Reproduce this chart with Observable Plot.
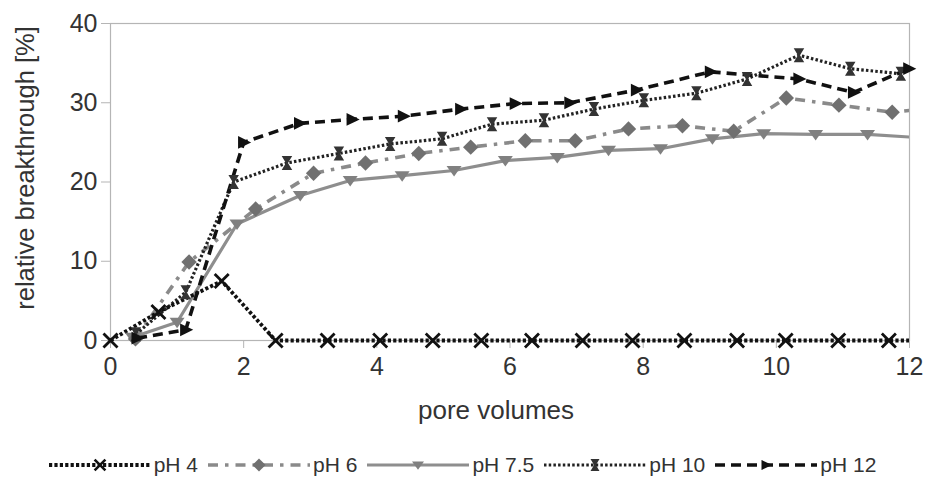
<!DOCTYPE html>
<html><head><meta charset="utf-8">
<script src="https://cdn.jsdelivr.net/npm/d3@7"></script>
<script src="https://cdn.jsdelivr.net/npm/@observablehq/plot@0.6"></script>
<style>
body{margin:0;background:#fff;width:925px;height:498px;overflow:hidden;font-family:"Liberation Sans",Arial,sans-serif;}
#legend{display:flex;justify-content:center;align-items:center;height:50px;color:#333;font-size:21px;}
.item{display:flex;align-items:center;margin:0 5px;}
.item span{margin-left:3px;}
</style></head><body><div id="chart"></div><div id="legend"></div>
<script>
// ---- data ----
const seriesNames = ["pH 4", "pH 6", "pH 7.5", "pH 10", "pH 12"];
const xTicks = [0, 2, 4, 6, 8, 10, 12];
const yTicks = [0, 10, 20, 30, 40];
const xLabel = "pore volumes";
const yLabel = "relative breakthrough [%]";

const x_pH4  = [0, 0.72, 1.67, 2.48, 3.26, 4.05, 4.84, 5.57, 6.33, 7.09, 7.84, 8.62, 9.41, 10.14, 10.93, 11.69, 12.47];
const y_pH4  = [0, 3.6, 7.5, 0, 0, 0, 0, 0, 0, 0, 0, 0, 0, 0, 0, 0, 0];
const x_pH6  = [0.375, 1.18, 2.18, 3.05, 3.83, 4.63, 5.41, 6.23, 6.98, 7.78, 8.59, 9.36, 10.15, 10.94, 11.74, 12.52];
const y_pH6  = [0.2, 9.9, 16.6, 21.1, 22.4, 23.6, 24.4, 25.2, 25.2, 26.7, 27.1, 26.4, 30.6, 29.7, 28.8, 29.5];
const x_pH75 = [0.33, 1.0, 1.9, 2.85, 3.6, 4.38, 5.16, 5.93, 6.71, 7.48, 8.26, 9.04, 9.81, 10.59, 11.37, 12.15];
const y_pH75 = [0.4, 2.3, 14.7, 18.3, 20.2, 20.8, 21.45, 22.7, 23.1, 24.0, 24.2, 25.45, 26.1, 26.0, 26.0, 25.6];
const x_pH10 = [0.38, 1.13, 1.85, 2.65, 3.43, 4.2, 4.98, 5.73, 6.51, 7.26, 8.01, 8.8, 9.56, 10.34, 11.11, 11.87];
const y_pH10 = [0.8, 6.1, 20.0, 22.4, 23.6, 24.8, 25.45, 27.3, 27.8, 29.2, 30.3, 31.2, 33.0, 36.0, 34.3, 33.65];
const x_pH12 = [0.4, 1.13, 2.0, 2.84, 3.63, 4.4, 5.26, 6.08, 6.9, 7.9, 9.01, 10.34, 11.16, 11.99];
const y_pH12 = [0.3, 1.35, 25.0, 27.4, 27.9, 28.3, 29.2, 29.9, 30.0, 31.6, 33.9, 33.0, 31.3, 34.3];

// ---- marker shapes ----
const rad = s => Math.sqrt(s / Math.PI);
const symTimes = {draw(c, s){const r = rad(s)*0.9; c.moveTo(-r,-r); c.lineTo(r,r); c.moveTo(-r,r); c.lineTo(r,-r);}};
const symDiamond = {draw(c, s){const r = rad(s)*1.1; c.moveTo(0,-r); c.lineTo(r,0); c.lineTo(0,r); c.lineTo(-r,0); c.closePath();}};
const symDown = {draw(c, s){const r = rad(s); c.moveTo(-r,-0.6*r); c.lineTo(r,-0.6*r); c.lineTo(0,0.8*r); c.closePath();}};
const symHour = {draw(c, s){const r = rad(s); c.moveTo(-0.75*r,-r); c.lineTo(0.75*r,-r); c.lineTo(0.15*r,0); c.lineTo(0.75*r,r); c.lineTo(-0.75*r,r); c.lineTo(-0.15*r,0); c.closePath();}};
const symRight = {draw(c, s){const r = rad(s); c.moveTo(-0.75*r,-0.85*r); c.lineTo(r,0); c.lineTo(-0.75*r,0.85*r); c.closePath();}};

const styles = [
  {name: seriesNames[0], xs: x_pH4,  ys: y_pH4,  stroke: "#111", width: 3.8, dash: "3.2,2.2", sym: symTimes,   mFill: "none", mStroke: "#111", r: 7.8},
  {name: seriesNames[1], xs: x_pH6,  ys: y_pH6,  stroke: "#8a8a8a", width: 3.6, dash: "10,7,3.5,7", sym: symDiamond, mFill: "#707070", mStroke: "none", r: 7},
  {name: seriesNames[2], xs: x_pH75, ys: y_pH75, stroke: "#8e8e8e", width: 3.2, dash: null, sym: symDown, mFill: "#808080", mStroke: "none", r: 7.5},
  {name: seriesNames[3], xs: x_pH10, ys: y_pH10, stroke: "#222", width: 3.2, dash: "2.5,2.2", sym: symHour, mFill: "#333", mStroke: "none", r: 7},
  {name: seriesNames[4], xs: x_pH12, ys: y_pH12, stroke: "#111", width: 3.6, dash: "10,6", sym: symRight, mFill: "#111", mStroke: "none", r: 7.5}
];

const rows = st => st.xs.map((x, i) => ({x, y: st.ys[i], s: st.name}));

const marks = [
  Plot.frame({stroke: "#b5b5b5", strokeWidth: 1.2}),
  Plot.axisX({ticks: xTicks, tickSize: 8, tickPadding: 9, stroke: "#b5b5b5", fill: "#333", label: null, fontSize: 25}),
  Plot.axisY({ticks: yTicks, tickSize: 9, tickPadding: 4, stroke: "#b5b5b5", fill: "#333", label: null, fontSize: 25}),
  Plot.text([xLabel], {text: d => d, frameAnchor: "bottom", textAnchor: "middle", dy: 78, dx: -14, fontSize: 26, fill: "#333"}),
  Plot.text([yLabel], {text: d => d, frameAnchor: "left", textAnchor: "middle", rotate: -90, dx: -85, dy: -14, fontSize: 25.5, fill: "#333"})
];
const order = [2, 1, 3, 4, 0];
for (const i of order) {
  const st = styles[i];
  marks.push(Plot.line(rows(st), {x: "x", y: "y", stroke: st.stroke, strokeWidth: st.width, strokeDasharray: st.dash, strokeLinecap: "butt", strokeLinejoin: "round", clip: true}));
}
for (const i of order) {
  const st = styles[i];
  marks.push(Plot.dot(rows(st).filter(d => d.x <= 12.05), {x: "x", y: "y", symbol: st.sym, r: st.r, fill: st.mFill, stroke: st.mStroke, strokeWidth: 2.8}));
}

const chart = Plot.plot({
  width: 925, height: 440,
  marginLeft: 110, marginRight: 16, marginTop: 23, marginBottom: 100,
  style: {fontFamily: "'Liberation Sans', Arial, sans-serif", fontSize: "25px", color: "#333", background: "white"},
  x: {domain: [0, 12]},
  y: {domain: [0, 40]},
  marks
});
// clip only horizontally: widen clip rectangles vertically so the 0-line is not cut in half
d3.select(chart).selectAll("clipPath rect").each(function() {
  d3.select(this).attr("y", 0).attr("height", 440);
});
document.getElementById("chart").appendChild(chart);

// ---- legend ----
const leg = document.getElementById("legend");
for (const st of styles) {
  const item = document.createElement("div"); item.className = "item";
  const W = 102, H = 20;
  const svg = d3.create("svg").attr("width", W).attr("height", H);
  const ln = svg.append("line").attr("x1", 0).attr("x2", W).attr("y1", H/2).attr("y2", H/2)
    .attr("stroke", st.stroke).attr("stroke-width", st.width);
  if (st.dash) ln.attr("stroke-dasharray", st.dash);
  svg.append("path").attr("transform", `translate(${W/2},${H/2})`)
    .attr("d", d3.symbol(st.sym, 36 * Math.PI)())
    .attr("fill", st.mFill).attr("stroke", st.mStroke).attr("stroke-width", 2.6);
  item.appendChild(svg.node());
  const sp = document.createElement("span"); sp.textContent = st.name; item.appendChild(sp);
  leg.appendChild(item);
}
</script></body></html>
